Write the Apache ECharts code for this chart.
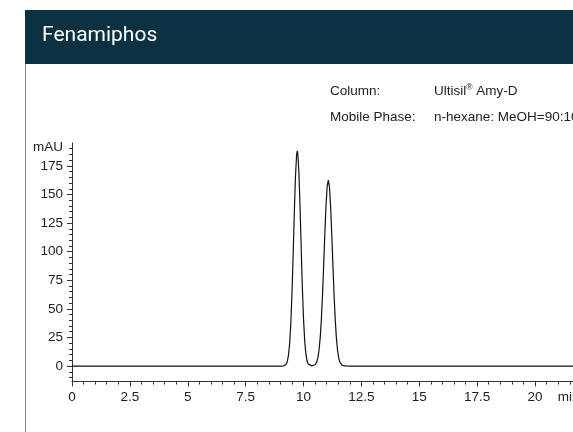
<!DOCTYPE html>
<html>
<head>
<meta charset="utf-8">
<script src="https://cdn.jsdelivr.net/npm/echarts@6/dist/echarts.min.js"></script>
<style>
html,body{margin:0;padding:0;background:#fff;overflow:hidden;}
#chart{width:573px;height:432px;}
</style>
</head>
<body>
<div id="chart"></div>
<script>
// ---- data ----
var titleText = 'Fenamiphos';
var infoLabels = ['Column:', 'Mobile Phase:'];
var infoValues = ['Ultisil', 'n-hexane: MeOH=90:10'];
var xTickLabels = [0, 2.5, 5, 7.5, 10, 12.5, 15, 17.5, 20];
var yTickLabels = [0, 25, 50, 75, 100, 125, 150, 175];
var xUnit = 'min';
var yUnit = 'mAU';
var retentionTime = [0, 9.00, 9.15, 9.25, 9.30, 9.35, 9.40, 9.45, 9.50, 9.55, 9.60, 9.65, 9.70, 9.73, 9.75, 9.80, 9.85, 9.90, 9.95, 10.00, 10.05, 10.10, 10.15, 10.20, 10.25, 10.35, 10.42,
  10.50, 10.57, 10.62, 10.67, 10.72, 10.77, 10.82, 10.87, 10.92, 10.97, 11.02, 11.07, 11.12, 11.17, 11.22, 11.27, 11.32, 11.37, 11.42, 11.47, 11.52, 11.57, 11.67, 11.80, 12.00, 21.64];
var absorbance = [0, 0, 0.2, 1.5, 4.0, 9.4, 19.4, 36.8, 62.6, 95.9, 132.2, 164.6, 184.5, 188.2, 186.4, 169.7, 139.3, 103.0, 68.6, 41.3, 22.4, 10.9, 4.8, 1.9, 0.7, 0.1, 0,
  1.1, 3.4, 7.2, 13.8, 24.6, 40.6, 62.1, 88.0, 115.2, 139.7, 156.8, 162.6, 156.8, 139.7, 115.2, 88.0, 62.1, 40.6, 24.6, 13.8, 7.2, 3.4, 0.6, 0.1, 0, 0];

// ---- build ----
var xMin = 0, xMax = 21.64, yMin = -13.5, yMax = 195;
var xMinor = [], yMinor = [];
for (var i = 0; i <= 43; i++) xMinor.push(i * 0.5);
for (var j = -2; j <= 38; j++) yMinor.push(j * 5);
var xLabelVals = xTickLabels.concat([21.45]);
var yLabelVals = yTickLabels.concat([191.5]);
var lineData = retentionTime.map(function (t, k) { return [t, absorbance[k]]; });
var axisColor = '#333';
var labelFont = {color: '#222', fontSize: 13.5, fontFamily: 'Liberation Sans, Arial, sans-serif'};
var infoFont = '13.5px "Liberation Sans", Arial, sans-serif';

var chart = echarts.init(document.getElementById('chart'), null, {renderer: 'canvas'});
chart.setOption({
  animation: false,
  backgroundColor: '#fff',
  grid: {left: 72, right: 0, top: 143, bottom: 50.5, containLabel: false, outerBoundsMode: 'none'},
  xAxis: [{
    type: 'value', min: xMin, max: xMax, gridIndex: 0,
    axisLine: {show: true, onZero: false, lineStyle: {color: axisColor, width: 1}},
    axisTick: {show: true, length: 5, customValues: xTickLabels, lineStyle: {color: axisColor}},
    axisLabel: Object.assign({show: true, margin: 9, customValues: xLabelVals, hideOverlap: false,
      formatter: function (v) { return v > 21 ? xUnit : String(v); }}, labelFont),
    splitLine: {show: false}
  }, {
    type: 'value', min: xMin, max: xMax, gridIndex: 0, position: 'bottom',
    axisLine: {show: false, onZero: false},
    axisTick: {show: true, length: 3, customValues: xMinor, lineStyle: {color: axisColor}},
    axisLabel: {show: false},
    splitLine: {show: false}
  }],
  yAxis: [{
    type: 'value', min: yMin, max: yMax, gridIndex: 0,
    axisLine: {show: true, onZero: false, lineStyle: {color: axisColor, width: 1}},
    axisTick: {show: true, length: 5, customValues: yTickLabels, lineStyle: {color: axisColor}},
    axisLabel: Object.assign({show: true, margin: 9, customValues: yLabelVals,
      formatter: function (v) { return v > 180 ? yUnit : String(v); }}, labelFont),
    splitLine: {show: false}
  }, {
    type: 'value', min: yMin, max: yMax, gridIndex: 0, position: 'left',
    axisLine: {show: false, onZero: false},
    axisTick: {show: true, length: 3, customValues: yMinor, lineStyle: {color: axisColor}},
    axisLabel: {show: false},
    splitLine: {show: false}
  }],
  series: [{
    type: 'line', xAxisIndex: 0, yAxisIndex: 0,
    data: lineData, showSymbol: false, symbol: 'none', smooth: false,
    lineStyle: {color: '#111', width: 1.2}, clip: true
  }],
  graphic: [
    {type: 'rect', shape: {x: 25.5, y: 10.5, width: 700, height: 600},
      style: {fill: 'none', stroke: '#8c8c8c', lineWidth: 1}, z: 10},
    {type: 'rect', shape: {x: 25, y: 10, width: 700, height: 54},
      style: {fill: '#0b3142'}, z: 11},
    {type: 'text', x: 42, y: 36, z: 12,
      style: {text: titleText, fill: '#ffffff', font: '21px Roboto, sans-serif', verticalAlign: 'middle'}},
    {type: 'text', x: 330, y: 91, z: 12,
      style: {text: infoLabels[0], fill: '#222', font: infoFont, verticalAlign: 'middle'}},
    {type: 'text', x: 330, y: 117, z: 12,
      style: {text: infoLabels[1], fill: '#222', font: infoFont, verticalAlign: 'middle'}},
    {type: 'text', x: 434, y: 91, z: 12,
      style: {text: '{a|' + infoValues[0] + '}{s|®}{a| Amy-D}', verticalAlign: 'middle',
        rich: {a: {fill: '#222', fontSize: 13.5, fontFamily: 'Liberation Sans, Arial, sans-serif'},
               s: {fill: '#222', fontSize: 8.5, fontFamily: 'Liberation Sans, Arial, sans-serif', verticalAlign: 'top', padding: [0, 0, 6, 0]}}}},
    {type: 'text', x: 434, y: 117, z: 12,
      style: {text: infoValues[1], fill: '#222', font: infoFont, verticalAlign: 'middle'}}
  ]
});
</script>
</body>
</html>
